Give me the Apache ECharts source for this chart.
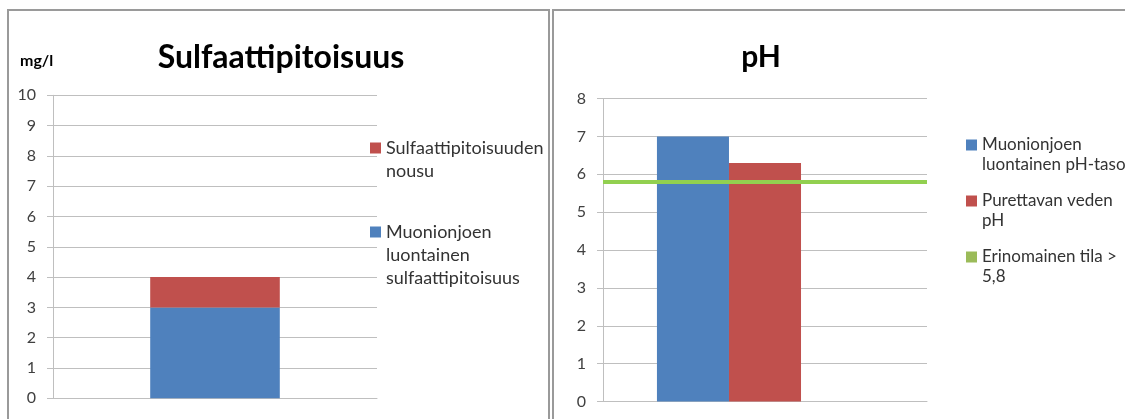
<!DOCTYPE html>
<html>
<head>
<meta charset="utf-8">
<script src="https://cdn.jsdelivr.net/npm/echarts@6/dist/echarts.min.js"></script>
<style>
  html, body { margin: 0; padding: 0; background: #ffffff; }
  #chart { width: 1125px; height: 419px; }
</style>
</head>
<body>
<div id="chart"></div>
<script>
// Sulfate panel (mg/l), stacked column
const sulfateCategories = [''];
const sulfateNatural = [3];
const sulfateIncrease = [1];
const sulfateAxis = { min: 0, max: 10, interval: 1 };

// pH panel, clustered columns plus a threshold line
const phCategories = [''];
const phNatural = [7.0];
const phDischarge = [6.3];
const phThreshold = [5.8];
const phAxis = { min: 0, max: 8, interval: 1 };

// Series names and how their legend text wraps
const sulfateNames = ['Muonionjoen luontainen sulfaattipitoisuus', 'Sulfaattipitoisuuden nousu'];
const phNames = ['Muonionjoen luontainen pH-taso', 'Purettavan veden pH', 'Erinomainen tila > 5,8'];
const legendLines = {
  'Sulfaattipitoisuuden nousu': ['Sulfaattipitoisuuden', 'nousu'],
  'Muonionjoen luontainen sulfaattipitoisuus': ['Muonionjoen', 'luontainen', 'sulfaattipitoisuus'],
  'Muonionjoen luontainen pH-taso': ['Muonionjoen', 'luontainen pH-taso'],
  'Purettavan veden pH': ['Purettavan veden', 'pH'],
  'Erinomainen tila > 5,8': ['Erinomainen tila >', '5,8']
};

const BLUE = '#4F81BD';
const RED = '#C0504D';
const GREEN = '#9BBB59';
const LINE_GREEN = '#92D050';
const GRID_GRAY = '#BFBFBF';
const FONT = 'Lato';

// One legend component per entry. Blank leading lines keep the text block
// centred on the marker while the marker sits beside the first real line.
function legendEntry(name, left, markerCenterY, lineH, fontSize) {
  const lines = legendLines[name];
  const n = lines.length;
  const padded = new Array(n - 1).fill(' ').concat(lines);
  const boxH = padded.length * lineH;
  return {
    data: [name],
    left: left,
    top: markerCenterY - boxH / 2,
    orient: 'vertical',
    padding: 0,
    icon: 'rect',
    itemWidth: 11,
    itemHeight: 11,
    selectedMode: false,
    formatter: () => padded.join('\n'),
    textStyle: {
      fontFamily: FONT,
      fontSize: fontSize,
      color: '#333333',
      lineHeight: lineH
    }
  };
}

function valueAxis(gridIndex, cfg) {
  return {
    type: 'value',
    gridIndex: gridIndex,
    min: cfg.min,
    max: cfg.max,
    interval: cfg.interval,
    axisLine: { show: true, lineStyle: { color: GRID_GRAY, width: 1 } },
    axisTick: { show: true, inside: false, length: 6, lineStyle: { color: GRID_GRAY } },
    splitLine: { show: true, lineStyle: { color: GRID_GRAY, width: 1 } },
    axisLabel: { margin: 17, fontFamily: FONT, fontSize: 16, color: '#404040' }
  };
}

function categoryAxis(gridIndex, cats) {
  return {
    type: 'category',
    gridIndex: gridIndex,
    data: cats,
    axisLine: { show: true, lineStyle: { color: GRID_GRAY } },
    axisTick: { show: false },
    axisLabel: { show: false }
  };
}

const chart = echarts.init(document.getElementById('chart'), null, { renderer: 'canvas' });

const option = {
  backgroundColor: '#ffffff',
  animation: false,
  textStyle: { fontFamily: FONT },
  grid: [
    { left: 53, top: 95.3, width: 324, height: 303 },
    { left: 603, top: 98.5, width: 324, height: 303 }
  ],
  xAxis: [categoryAxis(0, sulfateCategories), categoryAxis(1, phCategories)],
  yAxis: [valueAxis(0, sulfateAxis), valueAxis(1, phAxis)],
  legend: [
    legendEntry(sulfateNames[1], 370, 148, 23, 18),
    legendEntry(sulfateNames[0], 370, 232, 23, 18),
    legendEntry(phNames[0], 966, 145, 20, 17),
    legendEntry(phNames[1], 966, 201, 20, 17),
    legendEntry(phNames[2], 966, 257, 20, 17)
  ],
  series: [
    {
      name: sulfateNames[0], type: 'bar', stack: 'sulfate',
      xAxisIndex: 0, yAxisIndex: 0, barWidth: '40%',
      itemStyle: { color: BLUE }, data: sulfateNatural
    },
    {
      name: sulfateNames[1], type: 'bar', stack: 'sulfate',
      xAxisIndex: 0, yAxisIndex: 0, barWidth: '40%',
      itemStyle: { color: RED }, data: sulfateIncrease
    },
    {
      name: phNames[0], type: 'bar', xAxisIndex: 1, yAxisIndex: 1,
      barGap: '0%', barCategoryGap: '33.3%',
      itemStyle: { color: BLUE }, data: phNatural
    },
    {
      name: phNames[1], type: 'bar', xAxisIndex: 1, yAxisIndex: 1,
      barGap: '0%', barCategoryGap: '33.3%',
      itemStyle: { color: RED }, data: phDischarge
    },
    {
      // third slot of the cluster stays empty; the threshold is drawn as a line
      name: phNames[2], type: 'bar', xAxisIndex: 1, yAxisIndex: 1,
      barGap: '0%', barCategoryGap: '33.3%',
      itemStyle: { color: GREEN }, data: phCategories.map(() => null),
      markLine: {
        silent: true,
        symbol: 'none',
        label: { show: false },
        lineStyle: { color: LINE_GREEN, width: 4, type: 'solid' },
        data: phThreshold.map(v => ({ yAxis: v }))
      }
    }
  ],
  graphic: [
    // panel frames
    { type: 'rect', silent: true, shape: { x: 8, y: 10, width: 541, height: 430 },
      style: { fill: 'none', stroke: '#9a9a9a', lineWidth: 2 } },
    { type: 'rect', silent: true, shape: { x: 553, y: 10, width: 600, height: 430 },
      style: { fill: 'none', stroke: '#9a9a9a', lineWidth: 2 } },
    // titles and unit
    { type: 'text', x: 281, y: 58, silent: true,
      style: { text: 'Sulfaattipitoisuus', font: 'bold 32px Lato', fill: '#000000',
               textAlign: 'center', textVerticalAlign: 'middle', align: 'center', verticalAlign: 'middle' } },
    { type: 'text', x: 761, y: 57, silent: true,
      style: { text: 'pH', font: 'bold 30px Lato', fill: '#000000',
               textAlign: 'center', textVerticalAlign: 'middle', align: 'center', verticalAlign: 'middle' } },
    { type: 'text', x: 20, y: 61, silent: true,
      style: { text: 'mg/l', font: 'bold 16px Lato', fill: '#000000',
               textAlign: 'left', textVerticalAlign: 'middle', align: 'left', verticalAlign: 'middle' } }
  ]
};

chart.setOption(option);
</script>
</body>
</html>
